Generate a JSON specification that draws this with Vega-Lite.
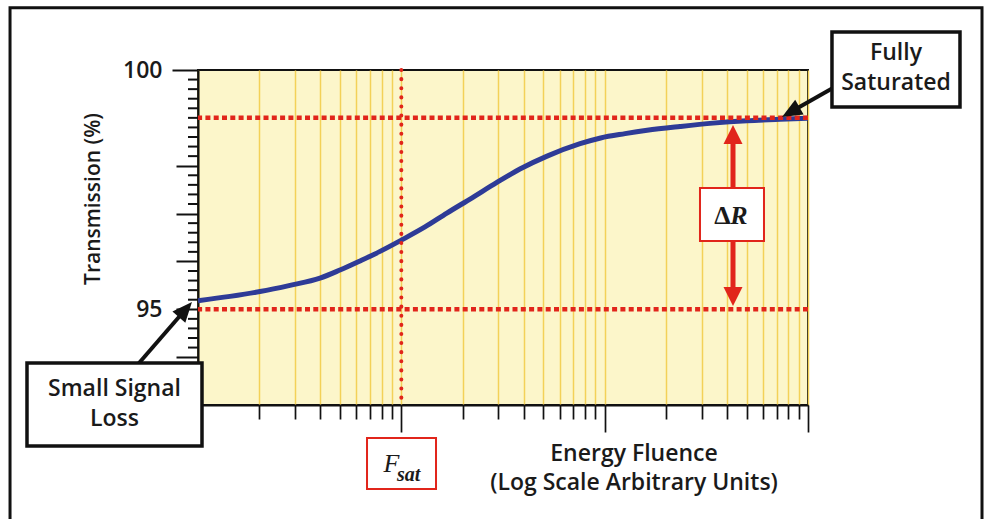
{
  "$schema": "https://vega.github.io/schema/vega-lite/v6.json",
  "width": 610,
  "height": 335,
  "autosize": {"type": "none"},
  "padding": {"left": 198, "top": 70, "right": 178, "bottom": 114},
  "background": "white",
  "config": {
    "view": {"fill": "#fcf6ca", "stroke": "#111111", "strokeWidth": 2},
    "font": "Open Sans"
  },
  "datasets": {
    "curve": [
      {"F": 1, "T": 95.18},
      {"F": 1.437, "T": 95.27},
      {"F": 2.018, "T": 95.37},
      {"F": 2.834, "T": 95.5},
      {"F": 3.98, "T": 95.65},
      {"F": 4.99, "T": 95.82},
      {"F": 6.26, "T": 96.01},
      {"F": 7.86, "T": 96.21},
      {"F": 10.05, "T": 96.45},
      {"F": 13.07, "T": 96.72},
      {"F": 16.75, "T": 97.01},
      {"F": 22.3, "T": 97.33},
      {"F": 29.5, "T": 97.65},
      {"F": 38.3, "T": 97.93},
      {"F": 52.1, "T": 98.2},
      {"F": 75.7, "T": 98.46},
      {"F": 95.5, "T": 98.58},
      {"F": 126, "T": 98.67},
      {"F": 161.7, "T": 98.74},
      {"F": 234.7, "T": 98.82},
      {"F": 341, "T": 98.89},
      {"F": 501, "T": 98.94},
      {"F": 729, "T": 98.97},
      {"F": 1000, "T": 98.99}
    ],
    "minorTicks": [
      {"T": 93.2}, {"T": 93.4}, {"T": 93.6}, {"T": 93.8},
      {"T": 94.2}, {"T": 94.4}, {"T": 94.6}, {"T": 94.8},
      {"T": 95.2}, {"T": 95.4}, {"T": 95.6}, {"T": 95.8},
      {"T": 96.2}, {"T": 96.4}, {"T": 96.6}, {"T": 96.8},
      {"T": 97.2}, {"T": 97.4}, {"T": 97.6}, {"T": 97.8},
      {"T": 98.2}, {"T": 98.4}, {"T": 98.6}, {"T": 98.8},
      {"T": 99},
      {"T": 99.2}, {"T": 99.4}, {"T": 99.6}, {"T": 99.8}
    ],
    "levels": [{"T": 99}, {"T": 95}],
    "fsat": [{"F": 10}],
    "callouts": [
      {"name": "Fully\nSaturated", "x1": 1312, "x2": 5591, "y1": 100.794, "y2": 99.227, "cx": 2709, "cy": 100.042},
      {"name": "Small Signal\nLoss", "x1": 0.1442, "x2": 1.0463, "y1": 93.878, "y2": 92.143, "cx": 0.3884, "cy": 93.021}
    ],
    "symbols": [
      {"name": "DeltaR", "x1": 294.3, "x2": 607.5, "y1": 97.534, "y2": 96.427},
      {"name": "Fsat", "x1": 6.78, "x2": 14.81, "y1": 92.31, "y2": 91.245}
    ],
    "pointers": [
      {"target": "Fully Saturated", "startF": 1702, "startT": 99.885, "baseF": 863.2, "baseT": 99.173, "tipF": 745, "tipT": 99.018},
      {"target": "Small Signal Loss", "startF": 0.4134, "startT": 93.418, "baseF": 0.8362, "baseT": 94.916, "tipF": 0.934, "tipT": 95.152}
    ],
    "deltaR": [{"F": 427.7, "top": 98.851, "bottom": 95.069, "shaftTop": 98.475, "shaftBottom": 95.466}]
  },
  "layer": [
    {
      "data": {"name": "curve"},
      "mark": {"type": "line", "color": "#2e3b97", "strokeWidth": 5, "interpolate": "monotone", "clip": false},
      "encoding": {
        "x": {
          "field": "F", "type": "quantitative",
          "scale": {"type": "log", "domain": [1, 1000], "nice": false},
          "axis": {
            "values": [1, 2, 3, 4, 5, 6, 7, 8, 9, 10, 20, 30, 40, 50, 60, 70, 80, 90, 100, 200, 300, 400, 500, 600, 700, 800, 900, 1000],
            "tickCount": 200,
            "labels": false,
            "grid": true, "gridColor": "#f3d158", "gridWidth": 1.5,
            "tickColor": "#111111", "tickWidth": 1.7,
            "tickSize": {"condition": {"test": "datum.value == 1 || datum.value == 10 || datum.value == 100 || datum.value == 1000", "value": 27}, "value": 14},
            "domainColor": "#111111", "domainWidth": 2,
            "title": ["Energy Fluence", "(Log Scale Arbitrary Units)"],
            "titleFont": "Open Sans", "titleFontWeight": 600, "titleFontSize": 23, "titleColor": "#1a1a1a",
            "titleX": 435.5, "titleY": 55, "titleAlign": "center", "titleBaseline": "alphabetic", "titleLineHeight": 29
          }
        },
        "y": {
          "field": "T", "type": "quantitative",
          "scale": {"domain": [93, 100], "nice": false, "zero": false},
          "axis": {
            "values": [93, 94, 95, 96, 97, 98, 100],
            "grid": false,
            "tickColor": "#111111", "tickWidth": 2,
            "tickSize": {"condition": {"test": "datum.value == 100", "value": 26}, "value": 22},
            "labelExpr": "datum.value == 100 ? '100' : (datum.value == 95 ? '95' : '')",
            "labelPadding": {"condition": {"test": "datum.value == 100", "value": 10}, "value": 14},
            "labelFlush": false, "labelBound": false, "labelOverlap": false,
            "labelFont": "Open Sans", "labelFontWeight": 600, "labelFontSize": 23, "labelColor": "#1a1a1a",
            "domainColor": "#111111", "domainWidth": 2,
            "title": "Transmission (%)",
            "titleFont": "Open Sans", "titleFontWeight": 600, "titleFontSize": 21, "titleColor": "#1a1a1a",
            "titleAngle": 270, "titleX": -105, "titleY": 128.5, "titleAlign": "center", "titleBaseline": "middle"
          }
        }
      }
    },
    {
      "data": {"name": "minorTicks"},
      "mark": {"type": "rule", "color": "#111111", "strokeWidth": 2, "clip": false},
      "encoding": {
        "x": {"datum": 0.8929, "type": "quantitative", "scale": {"type": "log", "domain": [1, 1000], "nice": false}},
        "x2": {"datum": 1},
        "y": {"field": "T", "type": "quantitative", "scale": {"domain": [93, 100], "nice": false, "zero": false}}
      }
    },
    {
      "data": {"values": [{}]},
      "mark": {"type": "rect", "fill": "transparent", "stroke": "#111111", "strokeWidth": 3, "clip": false},
      "encoding": {
        "x": {"datum": 0.119, "type": "quantitative", "scale": {"type": "log", "domain": [1, 1000], "nice": false}},
        "x2": {"datum": 7174},
        "y": {"datum": 101.3, "type": "quantitative", "scale": {"domain": [93, 100], "nice": false, "zero": false}},
        "y2": {"datum": 90.2}
      }
    },
    {
      "data": {"name": "levels"},
      "mark": {"type": "rule", "color": "#e1251b", "strokeWidth": 4.5, "strokeDash": [5, 3.3]},
      "encoding": {
        "y": {"field": "T", "type": "quantitative", "scale": {"domain": [93, 100], "nice": false, "zero": false}}
      }
    },
    {
      "data": {"name": "fsat"},
      "mark": {"type": "rule", "color": "#e1251b", "strokeWidth": 4, "strokeDash": [0.1, 9], "strokeCap": "round"},
      "encoding": {
        "x": {"field": "F", "type": "quantitative", "scale": {"type": "log", "domain": [1, 1000], "nice": false}}
      }
    },
    {
      "data": {"name": "deltaR"},
      "mark": {"type": "rule", "color": "#e1251b", "strokeWidth": 5},
      "encoding": {
        "x": {"field": "F", "type": "quantitative", "scale": {"type": "log", "domain": [1, 1000], "nice": false}},
        "y": {"field": "shaftTop", "type": "quantitative", "scale": {"domain": [93, 100], "nice": false, "zero": false}},
        "y2": {"field": "shaftBottom"}
      }
    },
    {
      "data": {"name": "deltaR"},
      "mark": {"type": "point", "shape": "M0,0L-1,2L1,2Z", "filled": true, "opacity": 1, "color": "#e1251b", "size": 361, "angle": 0, "strokeWidth": 0},
      "encoding": {
        "x": {"field": "F", "type": "quantitative", "scale": {"type": "log", "domain": [1, 1000], "nice": false}},
        "y": {"field": "top", "type": "quantitative", "scale": {"domain": [93, 100], "nice": false, "zero": false}}
      }
    },
    {
      "data": {"name": "deltaR"},
      "mark": {"type": "point", "shape": "M0,0L-1,2L1,2Z", "filled": true, "opacity": 1, "color": "#e1251b", "size": 361, "angle": 180, "strokeWidth": 0},
      "encoding": {
        "x": {"field": "F", "type": "quantitative", "scale": {"type": "log", "domain": [1, 1000], "nice": false}},
        "y": {"field": "bottom", "type": "quantitative", "scale": {"domain": [93, 100], "nice": false, "zero": false}}
      }
    },
    {
      "data": {"name": "pointers"},
      "mark": {"type": "rule", "color": "#111111", "strokeWidth": 4, "clip": false},
      "encoding": {
        "x": {"field": "startF", "type": "quantitative", "scale": {"type": "log", "domain": [1, 1000], "nice": false}},
        "x2": {"field": "baseF"},
        "y": {"field": "startT", "type": "quantitative", "scale": {"domain": [93, 100], "nice": false, "zero": false}},
        "y2": {"field": "baseT"}
      }
    },
    {
      "data": {"name": "pointers"},
      "transform": [{"filter": "datum.target == 'Fully Saturated'"}],
      "mark": {"type": "point", "shape": "M0,0L-0.85,2L0.85,2Z", "filled": true, "opacity": 1, "color": "#111111", "size": 400, "angle": 240.4, "strokeWidth": 0, "clip": false},
      "encoding": {
        "x": {"field": "tipF", "type": "quantitative", "scale": {"type": "log", "domain": [1, 1000], "nice": false}},
        "y": {"field": "tipT", "type": "quantitative", "scale": {"domain": [93, 100], "nice": false, "zero": false}}
      }
    },
    {
      "data": {"name": "pointers"},
      "transform": [{"filter": "datum.target == 'Small Signal Loss'"}],
      "mark": {"type": "point", "shape": "M0,0L-0.85,2L0.85,2Z", "filled": true, "opacity": 1, "color": "#111111", "size": 400, "angle": 40.9, "strokeWidth": 0, "clip": false},
      "encoding": {
        "x": {"field": "tipF", "type": "quantitative", "scale": {"type": "log", "domain": [1, 1000], "nice": false}},
        "y": {"field": "tipT", "type": "quantitative", "scale": {"domain": [93, 100], "nice": false, "zero": false}}
      }
    },
    {
      "data": {"name": "callouts"},
      "mark": {"type": "rect", "fill": "white", "stroke": "#111111", "strokeWidth": 3.5, "clip": false},
      "encoding": {
        "x": {"field": "x1", "type": "quantitative", "scale": {"type": "log", "domain": [1, 1000], "nice": false}},
        "x2": {"field": "x2"},
        "y": {"field": "y1", "type": "quantitative", "scale": {"domain": [93, 100], "nice": false, "zero": false}},
        "y2": {"field": "y2"}
      }
    },
    {
      "data": {"name": "callouts"},
      "mark": {"type": "text", "font": "Open Sans", "fontWeight": 600, "fontSize": 23, "color": "#1a1a1a", "align": "center", "baseline": "middle", "lineBreak": "\n", "lineHeight": 30, "dy": -15, "clip": false},
      "encoding": {
        "x": {"field": "cx", "type": "quantitative", "scale": {"type": "log", "domain": [1, 1000], "nice": false}},
        "y": {"field": "cy", "type": "quantitative", "scale": {"domain": [93, 100], "nice": false, "zero": false}},
        "text": {"field": "name"}
      }
    },
    {
      "data": {"name": "symbols"},
      "mark": {"type": "rect", "fill": "white", "stroke": "#e1251b", "strokeWidth": 2, "clip": false},
      "encoding": {
        "x": {"field": "x1", "type": "quantitative", "scale": {"type": "log", "domain": [1, 1000], "nice": false}},
        "x2": {"field": "x2"},
        "y": {"field": "y1", "type": "quantitative", "scale": {"domain": [93, 100], "nice": false, "zero": false}},
        "y2": {"field": "y2"}
      }
    },
    {
      "data": {"values": [{}]},
      "mark": {"type": "text", "text": "Δ", "font": "Liberation Serif", "fontWeight": "bold", "fontSize": 26, "color": "#1a1a1a", "align": "center", "baseline": "middle", "clip": false},
      "encoding": {
        "x": {"datum": 379.8, "type": "quantitative", "scale": {"type": "log", "domain": [1, 1000], "nice": false}},
        "y": {"datum": 96.95, "type": "quantitative", "scale": {"domain": [93, 100], "nice": false, "zero": false}}
      }
    },
    {
      "data": {"values": [{}]},
      "mark": {"type": "text", "text": "R", "font": "Liberation Serif", "fontStyle": "italic", "fontWeight": "bold", "fontSize": 26, "color": "#1a1a1a", "align": "center", "baseline": "middle", "clip": false},
      "encoding": {
        "x": {"datum": 457.8, "type": "quantitative", "scale": {"type": "log", "domain": [1, 1000], "nice": false}},
        "y": {"datum": 96.95, "type": "quantitative", "scale": {"domain": [93, 100], "nice": false, "zero": false}}
      }
    },
    {
      "data": {"values": [{}]},
      "mark": {"type": "text", "text": "F", "font": "Liberation Serif", "fontStyle": "italic", "fontSize": 26, "color": "#1a1a1a", "align": "center", "baseline": "alphabetic", "clip": false},
      "encoding": {
        "x": {"datum": 8.945, "type": "quantitative", "scale": {"type": "log", "domain": [1, 1000], "nice": false}},
        "y": {"datum": 91.6, "type": "quantitative", "scale": {"domain": [93, 100], "nice": false, "zero": false}}
      }
    },
    {
      "data": {"values": [{}]},
      "mark": {"type": "text", "text": "sat", "font": "Liberation Serif", "fontStyle": "italic", "fontWeight": "bold", "fontSize": 20, "color": "#1a1a1a", "align": "left", "baseline": "alphabetic", "clip": false},
      "encoding": {
        "x": {"datum": 9.52, "type": "quantitative", "scale": {"type": "log", "domain": [1, 1000], "nice": false}},
        "y": {"datum": 91.42, "type": "quantitative", "scale": {"domain": [93, 100], "nice": false, "zero": false}}
      }
    }
  ]
}
